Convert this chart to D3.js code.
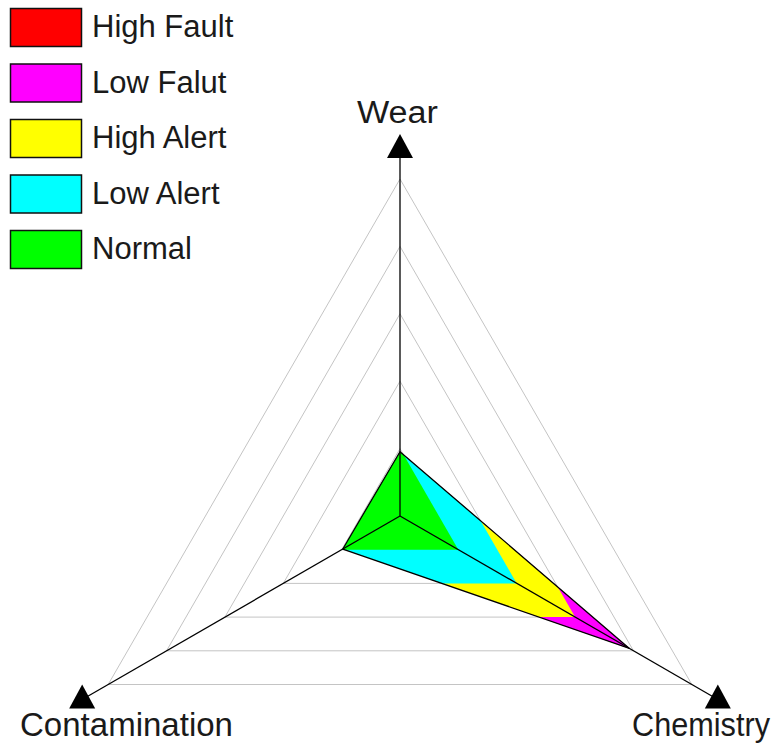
<!DOCTYPE html>
<html>
<head>
<meta charset="utf-8">
<script src="https://cdn.jsdelivr.net/npm/d3@7/dist/d3.min.js"></script>
<style>
  html, body { margin: 0; padding: 0; background: #fff; }
  svg { display: block; }
  text { font-family: "Liberation Sans", Arial, sans-serif; fill: #1a1a1a; }
</style>
</head>
<body>
<svg id="chart" width="780" height="747"></svg>
<script>
// ---- data ----
const axes = ["Wear", "Chemistry", "Contamination"];
const values = [0.955, 3.93, 0.98];
const levels = [1, 2, 3, 4, 5];
const levelNames = ["Normal", "Low Alert", "High Alert", "Low Falut", "High Fault"];
const levelColors = ["#00ff00", "#00ffff", "#ffff00", "#ff00ff", "#ff0000"];
const legendNames = ["High Fault", "Low Falut", "High Alert", "Low Alert", "Normal"];
const legendColors = ["#ff0000", "#ff00ff", "#ffff00", "#00ffff", "#00ff00"];
const axisMax = 5.445;

// ---- layout ----
const cx = 400, cy = 516;
const svg = d3.select("#chart");
const r = d3.scaleLinear().domain([0, 5]).range([0, 337]);
const angle = d3.scaleOrdinal().domain(axes).range([-90, 30, 150].map(a => a * Math.PI / 180));
const pt = (ax, v) => [cx + r(v) * Math.cos(angle(ax)), cy + r(v) * Math.sin(angle(ax))];
const line = d3.line();
const poly = vals => line(axes.map((a, i) => pt(a, vals[i]))) + "Z";

// clip paths for rings
const defs = svg.append("defs");
levels.forEach((lv, i) => {
  defs.append("clipPath").attr("id", "ring" + i)
    .append("path").attr("d", poly(axes.map(() => lv)));
});

// grid rings
svg.append("g").selectAll("path").data(levels).join("path")
  .attr("d", lv => poly(axes.map(() => lv)))
  .attr("fill", "none").attr("stroke", "#c4c4c4").attr("stroke-width", 1);

// zone fills (outer first)
const zones = svg.append("g");
for (let i = levels.length - 1; i >= 0; i--) {
  zones.append("path")
    .attr("d", poly(values))
    .attr("fill", levelColors[i])
    .attr("clip-path", "url(#ring" + i + ")");
}

// data outline
svg.append("path").attr("d", poly(values))
  .attr("fill", "none").attr("stroke", "#000").attr("stroke-width", 1.3)
  .attr("stroke-linejoin", "miter");

// axes
svg.append("g").selectAll("line").data(axes).join("line")
  .attr("x1", cx).attr("y1", cy)
  .attr("x2", a => pt(a, axisMax)[0]).attr("y2", a => pt(a, axisMax)[1])
  .attr("stroke", "#000").attr("stroke-width", 1.3);

// arrow markers (upright triangles)
svg.append("g").selectAll("path").data(axes).join("path")
  .attr("transform", a => `translate(${pt(a, axisMax)[0]},${pt(a, axisMax)[1]})`)
  .attr("d", "M0,-15L13,9L-13,9Z")
  .attr("fill", "#000");

// axis labels
const labelSpec = {
  "Wear": { x: 357, y: 123, size: 31, len: 81 },
  "Contamination": { x: 20, y: 736, size: 33, len: 213 },
  "Chemistry": { x: 632, y: 736, size: 33, len: 138 }
};
svg.append("g").selectAll("text").data(axes).join("text")
  .attr("x", a => labelSpec[a].x).attr("y", a => labelSpec[a].y)
  .attr("font-size", a => labelSpec[a].size)
  .attr("textLength", a => labelSpec[a].len)
  .attr("lengthAdjust", "spacingAndGlyphs")
  .text(a => a);

// legend
const leg = svg.append("g");
const legY = d3.scaleLinear().domain([0, 4]).range([8, 230]);
leg.selectAll("rect").data(legendNames).join("rect")
  .attr("x", 10.5).attr("y", (d, i) => legY(i) + 0.5)
  .attr("width", 71).attr("height", 38)
  .attr("fill", (d, i) => legendColors[i])
  .attr("stroke", "#111").attr("stroke-width", 1.5);
leg.selectAll("text").data(legendNames).join("text")
  .attr("x", 92).attr("y", (d, i) => legY(i) + 29)
  .attr("font-size", 31)
  .text(d => d);
</script>
</body>
</html>
